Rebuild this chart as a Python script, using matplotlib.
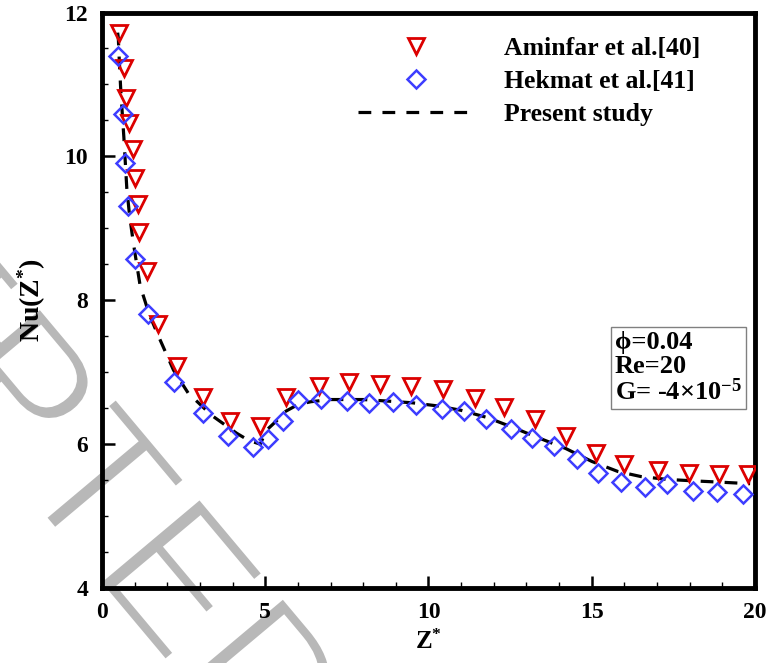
import matplotlib
matplotlib.use("Agg")
import matplotlib.pyplot as plt
from matplotlib.lines import Line2D
from matplotlib.ticker import MultipleLocator
from matplotlib import patheffects as pe

plt.rcParams['font.family'] = ['Liberation Serif', 'DejaVu Serif']
plt.rcParams['font.weight'] = 'bold'
plt.rcParams['mathtext.fontset'] = 'custom'
plt.rcParams['mathtext.rm'] = 'Liberation Serif:bold'
plt.rcParams['mathtext.bf'] = 'Liberation Serif:bold'
plt.rcParams['mathtext.it'] = 'Liberation Serif:bold'
plt.rcParams['mathtext.default'] = 'rm'

# ---- data ----
aminfar_z = [0.53, 0.68, 0.74, 0.84, 0.96, 1.02, 1.11, 1.13, 1.37, 1.71, 2.30, 3.08,
             3.93, 4.83, 5.63, 6.65, 7.56, 8.50, 9.47, 10.43, 11.42, 12.32, 13.25,
             14.20, 15.12, 15.99, 17.02, 17.98, 18.89, 19.78]
aminfar_nu = [11.71, 11.23, 10.81, 10.46, 10.10, 9.70, 9.34, 8.95, 8.41, 7.67, 7.08, 6.66,
              6.32, 6.25, 6.65, 6.81, 6.87, 6.84, 6.81, 6.76, 6.64, 6.52, 6.35,
              6.11, 5.87, 5.72, 5.64, 5.60, 5.58, 5.58]

hekmat_z = [0.48, 0.63, 0.70, 0.81, 1.01, 1.40, 2.22, 3.09, 3.87, 4.64, 5.10, 5.55,
            5.99, 6.71, 7.51, 8.19, 8.92, 9.63, 10.40, 11.10, 11.77, 12.54, 13.18,
            13.84, 14.56, 15.19, 15.91, 16.63, 17.32, 18.09, 18.83, 19.62]
hekmat_nu = [11.40, 10.59, 9.91, 9.31, 8.58, 7.81, 6.87, 6.43, 6.11, 5.96, 6.07, 6.32,
             6.62, 6.63, 6.60, 6.57, 6.59, 6.54, 6.49, 6.46, 6.35, 6.21, 6.09,
             5.97, 5.79, 5.60, 5.48, 5.41, 5.44, 5.35, 5.34, 5.31]

present_z = [0.48, 0.50, 0.53, 0.57, 0.62, 0.67, 0.76, 0.84, 0.96, 1.17, 1.45, 1.78,
             2.19, 2.64, 3.36, 4.13, 4.50, 4.85, 5.03, 5.36, 5.60, 6.00, 6.40, 7.00,
             8.00, 8.70, 9.50, 10.30, 11.00, 11.80, 12.60, 13.30, 14.20, 15.00,
             15.80, 16.50, 17.30, 18.10, 19.00, 19.85]
present_nu = [11.72, 11.65, 11.34, 10.97, 10.61, 10.27, 9.56, 9.20, 8.80, 8.20, 7.80, 7.45,
              7.03, 6.71, 6.40, 6.15, 6.05, 6.00, 6.19, 6.33, 6.45, 6.55, 6.59, 6.62,
              6.62, 6.60, 6.575, 6.53, 6.47, 6.37, 6.23, 6.10, 5.94, 5.76,
              5.62, 5.55, 5.51, 5.49, 5.47, 5.45]

x_ticks = [0, 5, 10, 15, 20]
y_ticks = [4, 6, 8, 10, 12]
labels = ['Aminfar et al.[40]', 'Hekmat et al.[41]', 'Present study']

RED = '#dc0000'
BLUE = '#3d3dff'

fig = plt.figure(figsize=(7.69, 6.63), dpi=100)
fig.patch.set_facecolor('white')

# watermark behind everything
fig.text(0.3394, -0.1719, 'ACCEPTED', family='Liberation Sans', fontweight='normal',
         fontsize=140, color='#b8b8b8', rotation=-50, rotation_mode='anchor',
         ha='right', va='baseline', zorder=-5,
         path_effects=[pe.Normal(),
                       pe.PathPatchEffect(edgecolor='white', facecolor='none', linewidth=4.5)])

ax = fig.add_axes([0.1326, 0.1131, 0.8492, 0.868])
ax.patch.set_alpha(0)

ax.plot(present_z, present_nu, color='black', lw=2.3, dashes=(4, 3.5), zorder=2)
ax.plot(aminfar_z, aminfar_nu, linestyle='none', marker='v', ms=12, mew=2.0,
        mfc='none', mec=RED, zorder=3)
ax.plot(hekmat_z, hekmat_nu, linestyle='none', marker='D', ms=9.5, mew=1.8,
        mfc='none', mec=BLUE, zorder=3)

ax.set_xlim(0, 20)
ax.set_ylim(4, 12)
ax.set_xticks(x_ticks)
ax.set_yticks(y_ticks)
ax.xaxis.set_minor_locator(MultipleLocator(1))
ax.yaxis.set_minor_locator(MultipleLocator(0.5))
ax.tick_params(which='both', direction='in', top=False, right=False)
ax.tick_params(which='major', length=9, width=1.8, labelsize=17, pad=10)
ax.tick_params(which='minor', length=4.5, width=1.0)
for lab in ax.get_xticklabels() + ax.get_yticklabels():
    lab.set_fontweight('bold')
for sp in ax.spines.values():
    sp.set_linewidth(3.5)

ax.set_xlabel('Z$^{*}$', fontsize=18, fontweight='bold')
ax.set_ylabel('Nu(Z$^{*}$)', fontsize=20, fontweight='bold')
ax.xaxis.set_label_coords(0.5, -0.073)
ax.yaxis.set_label_coords(-0.083, 0.5)

handles = [
    Line2D([], [], linestyle='none', marker='v', ms=12, mew=2.0, mfc='none', mec=RED),
    Line2D([], [], linestyle='none', marker='D', ms=9.5, mew=1.8, mfc='none', mec=BLUE),
    Line2D([], [], color='black', lw=2.3, dashes=(4, 3.5)),
]
leg = ax.legend(handles, labels, loc='upper left', bbox_to_anchor=(0.392, 0.958),
                frameon=False, handlelength=4.5, handletextpad=1.2,
                labelspacing=0.4, borderpad=0, borderaxespad=0, numpoints=1,
                prop={'family': 'Liberation Serif', 'weight': 'bold', 'size': 18.5})

ax.text(0.7856, 0.447, '\u03d5=0.04\nRe=20\nG= -4\u00d710$^{-5}$',
        transform=ax.transAxes, fontsize=19, fontweight='bold', va='top', ha='left',
        linespacing=1.05,
        bbox=dict(boxstyle='square,pad=0.15', facecolor='white', edgecolor='#808080', lw=1.0))

fig.savefig('out.png', dpi=100)
